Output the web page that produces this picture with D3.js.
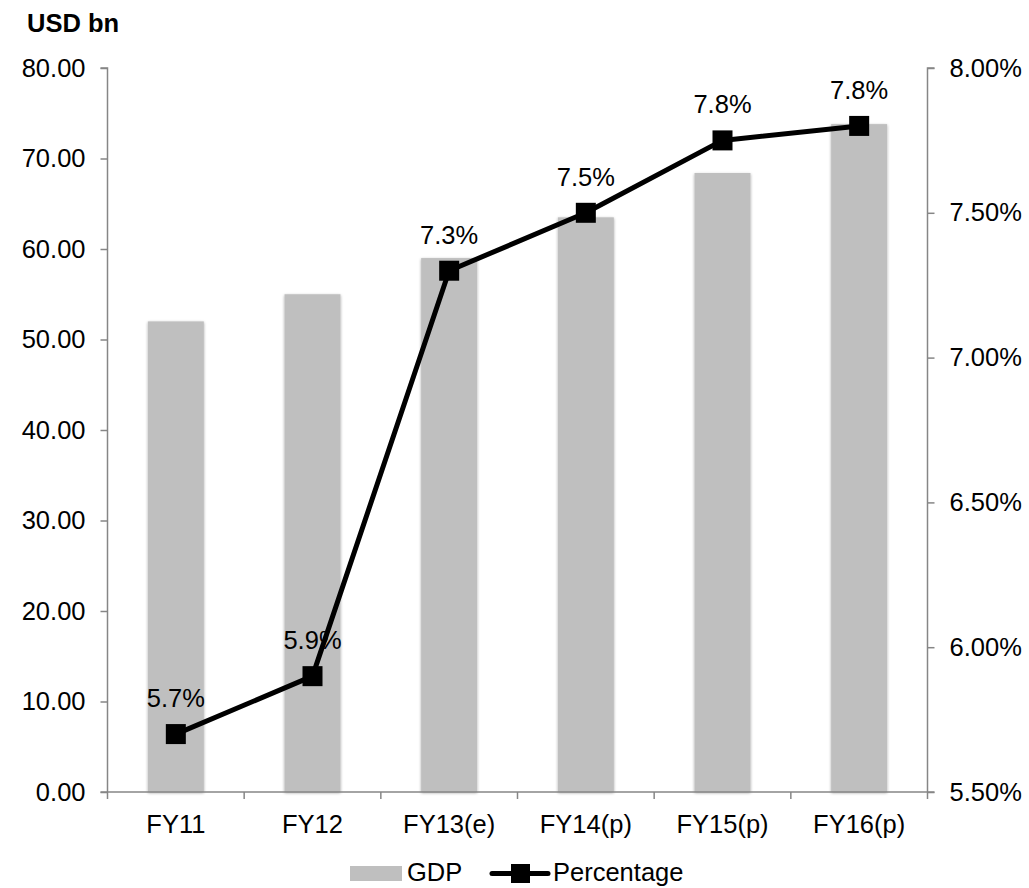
<!DOCTYPE html>
<html><head><meta charset="utf-8">
<script src="https://cdn.jsdelivr.net/npm/d3@7"></script>
<style>body{margin:0;background:#fff;} text{font-family:"Liberation Sans",Arial,sans-serif;}</style>
</head><body>
<svg id="c" width="1029" height="888"></svg>
<script>
const categories = ["FY11","FY12","FY13(e)","FY14(p)","FY15(p)","FY16(p)"];
const gdp = [52.0, 55.0, 59.0, 63.5, 68.4, 73.8];
const percentage = [5.7, 5.9, 7.3, 7.5, 7.75, 7.8];
const pctLabels = ["5.7%","5.9%","7.3%","7.5%","7.8%","7.8%"];
const leftTicks = [0,10,20,30,40,50,60,70,80];
const rightTicks = [5.5,6.0,6.5,7.0,7.5,8.0];

const FS = 25.5;
const svg = d3.select("#c");
const L = 107.5, R = 927.5, T = 68, B = 792;
const x = d3.scaleBand().domain(categories).range([L, R]).paddingInner(0).paddingOuter(0);
const yL = d3.scaleLinear().domain([0,80]).range([B,T]);
const yR = d3.scaleLinear().domain([5.5,8.0]).range([B,T]);
const axisColor = "#868686";

const defs = svg.append("defs");
const f = defs.append("filter").attr("id","sh").attr("x","-20%").attr("y","-5%").attr("width","140%").attr("height","110%");
f.append("feGaussianBlur").attr("in","SourceAlpha").attr("stdDeviation","1.5").attr("result","b");
f.append("feOffset").attr("dx",0).attr("dy",1).attr("result","o");
f.append("feComponentTransfer").append("feFuncA").attr("type","linear").attr("slope",0.35);
const m = f.append("feMerge"); m.append("feMergeNode"); m.append("feMergeNode").attr("in","SourceGraphic");

// bars
const bw = 56;
svg.append("g").selectAll("rect").data(gdp).join("rect")
  .attr("x",(d,i)=>x(categories[i])+x.bandwidth()/2-bw/2)
  .attr("y",d=>yL(d)).attr("width",bw).attr("height",d=>B-yL(d))
  .attr("fill","#bfbfbf").attr("filter","url(#sh)");

// axes
const gl = svg.append("g").attr("transform",`translate(${L},0)`)
  .call(d3.axisLeft(yL).tickValues(leftTicks).tickSize(7).tickPadding(15).tickFormat(d3.format(".2f")));
const gr = svg.append("g").attr("transform",`translate(${R},0)`)
  .call(d3.axisRight(yR).tickValues(rightTicks).tickSize(7).tickPadding(15).tickFormat(d=>d.toFixed(2)+"%"));
const gx = svg.append("g").attr("transform",`translate(0,${B})`)
  .call(d3.axisBottom(x).tickSize(0).tickPadding(0));
gx.selectAll(".tick line").remove();
// boundary ticks on x axis
svg.append("g").selectAll("line").data(d3.range(categories.length+1)).join("line")
  .attr("x1",i=>L+i*x.bandwidth()).attr("x2",i=>L+i*x.bandwidth())
  .attr("y1",B).attr("y2",B+7).attr("stroke",axisColor).attr("stroke-width",1.5);

[gl,gr,gx].forEach(g=>{
  g.attr("font-size",FS).attr("font-family","Liberation Sans, Arial, sans-serif");
  g.selectAll(".domain").attr("stroke",axisColor).attr("stroke-width",1.5);
  g.selectAll(".tick line").attr("stroke",axisColor).attr("stroke-width",1.5);
  g.selectAll("text").attr("font-size",FS).attr("fill","#000");
});
gl.select(".domain").attr("d",`M-7,${T}H0V${B}`);
gr.select(".domain").attr("d",`M7,${T}H0V${B}`);
gx.select(".domain").attr("d",`M${L-7},0H${R+7}`);
gx.selectAll("text").attr("y",41).attr("dy",0);

// line
const line = d3.line().x((d,i)=>x(categories[i])+x.bandwidth()/2).y(d=>yR(d));
svg.append("path").datum(percentage).attr("d",line).attr("fill","none")
  .attr("stroke","#000").attr("stroke-width",5).attr("stroke-linejoin","round");
svg.append("g").selectAll("rect").data(percentage).join("rect")
  .attr("x",(d,i)=>x(categories[i])+x.bandwidth()/2-10).attr("y",d=>yR(d)-10)
  .attr("width",20).attr("height",20).attr("fill","#000");
svg.append("g").selectAll("text").data(percentage).join("text")
  .attr("x",(d,i)=>x(categories[i])+x.bandwidth()/2).attr("y",d=>yR(d)-27)
  .attr("text-anchor","middle").attr("font-size",FS).text((d,i)=>pctLabels[i]);

// title
svg.append("text").attr("x",27).attr("y",32).attr("font-size",FS).attr("font-weight","bold").text("USD bn");

// legend
const lg = svg.append("g");
lg.append("rect").attr("x",350).attr("y",866).attr("width",52).attr("height",15).attr("fill","#bfbfbf");
lg.append("text").attr("x",407).attr("y",881).attr("font-size",FS).text("GDP");
lg.append("line").attr("x1",492).attr("x2",548).attr("y1",873.5).attr("y2",873.5).attr("stroke","#000").attr("stroke-width",5).attr("stroke-linecap","round");
lg.append("rect").attr("x",511).attr("y",864).attr("width",19).attr("height",19).attr("fill","#000");
lg.append("text").attr("x",553).attr("y",881).attr("font-size",FS).text("Percentage");
</script>
</body></html>
